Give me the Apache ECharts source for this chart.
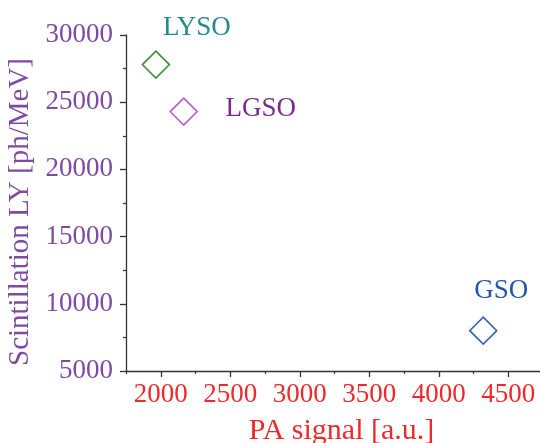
<!DOCTYPE html>
<html>
<head>
<meta charset="utf-8">
<script src="https://cdn.jsdelivr.net/npm/echarts@6/dist/echarts.min.js"></script>
<style>
  html, body { margin: 0; padding: 0; background: #fff; }
  #chart { width: 540px; height: 443px; }
</style>
</head>
<body>
<div id="chart"></div>
<script>
// Scintillator crystals: photo-amplifier signal vs. light yield
const crystals = ['LYSO', 'LGSO', 'GSO'];
const paSignal = [1965, 2165, 4320];
const lightYield = [27800, 24300, 8000];

// x-axis tick positions (labelled majors and unlabelled minors)
const xMajorTicks = [2000, 2500, 3000, 3500, 4000, 4500];
const xMinorTicks = [1750, 2250, 2750, 3250, 3750, 4250];

const markerColors = ['#3f8f3f', '#b264bc', '#3a62b4'];
const labelColors = ['#23898a', '#7a2a8c', '#2456a8'];
const labelOffsets = [[41, -37], [77, -3], [18, -40]];

const serif = '"Liberation Serif", "DejaVu Serif", serif';
const axisColor = '#333';

const series = crystals.map((name, i) => ({
  name: name,
  type: 'scatter',
  symbol: 'diamond',
  symbolSize: [27, 27],
  data: [[paSignal[i], lightYield[i]]],
  itemStyle: { color: '#ffffff', borderColor: markerColors[i], borderWidth: 1.6, opacity: 1 },
  label: {
    show: true,
    position: 'inside',
    offset: labelOffsets[i],
    formatter: name,
    color: labelColors[i],
    fontFamily: serif,
    fontSize: 27
  },
  emphasis: { disabled: true }
}));

const chart = echarts.init(document.getElementById('chart'));
chart.setOption({
  animation: false,
  grid: { left: 126, top: 35, right: -3, bottom: 72, containLabel: false, outerBoundsMode: 'none' },
  xAxis: [{
    type: 'value',
    min: 1750,
    max: 4750,
    name: 'PA signal [a.u.]',
    nameLocation: 'middle',
    nameGap: 45,
    nameTextStyle: { color: '#ec2a2c', fontFamily: serif, fontSize: 30, padding: [0, 0, 0, 14] },
    axisLine: { show: true, onZero: false, lineStyle: { color: axisColor, width: 1.3 } },
    axisTick: { show: true, inside: false, length: 6, customValues: xMajorTicks, lineStyle: { color: axisColor, width: 1.3 } },
    axisLabel: { color: '#ec2a2c', fontFamily: serif, fontSize: 27, margin: 10, customValues: xMajorTicks, formatter: v => String(v) },
    splitLine: { show: false }
  }, {
    // minor ticks between the labelled values
    type: 'value',
    position: 'bottom',
    min: 1750,
    max: 4750,
    axisLine: { show: false, onZero: false },
    axisTick: { show: true, inside: false, length: 3, customValues: xMinorTicks, lineStyle: { color: axisColor, width: 1.2 } },
    axisLabel: { show: false },
    splitLine: { show: false }
  }],
  yAxis: {
    type: 'value',
    min: 5000,
    max: 30000,
    interval: 5000,
    name: 'Scintillation LY [ph/MeV]',
    nameLocation: 'middle',
    nameGap: 79,
    nameTextStyle: { color: '#7e4aa2', fontFamily: serif, fontSize: 29, padding: [0, 18, 0, 0] },
    axisLine: { show: true, onZero: false, lineStyle: { color: axisColor, width: 1.3 } },
    axisTick: { show: true, inside: false, length: 6, lineStyle: { color: axisColor, width: 1.3 } },
    minorTick: { show: true, splitNumber: 2, length: 3, lineStyle: { color: axisColor, width: 1.2 } },
    axisLabel: { color: '#7e4aa2', fontFamily: serif, fontSize: 27, margin: 13, formatter: v => String(v) },
    splitLine: { show: false }
  },
  series: series
});
</script>
</body>
</html>
